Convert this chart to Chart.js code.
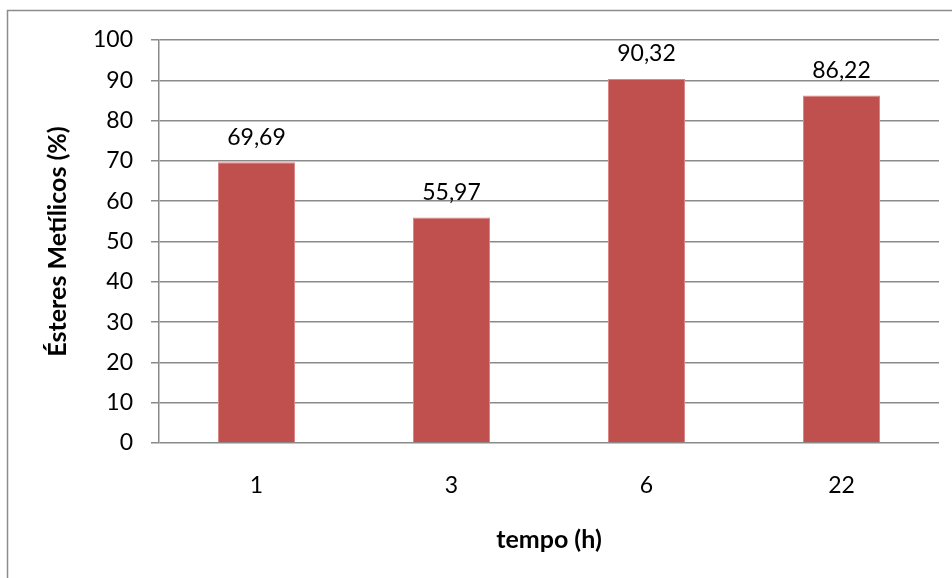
<!DOCTYPE html>
<html>
<head>
<meta charset="utf-8">
<script src="https://cdn.jsdelivr.net/npm/chart.js@4/dist/chart.umd.min.js"></script>
<style>
  html, body { margin: 0; padding: 0; background: #fff; }
  #wrap { width: 952px; height: 578px; position: relative; }
</style>
</head>
<body>
<div id="wrap"><canvas id="c" width="952" height="578"></canvas></div>
<script>
// Reaction time (hours) and methyl ester yield (%)
const categories = ['1', '3', '6', '22'];
const esterYield = [69.69, 55.97, 90.32, 86.22];
const yTicks = [0, 10, 20, 30, 40, 50, 60, 70, 80, 90, 100];

const FONT = 'Lato, "Open Sans", sans-serif';
const GRID = '#8a8a8a';
const TICK_SIZE = 23;
const TITLE_SIZE = 25;

// Outer frame of the chart object
const framePlugin = {
  id: 'frame',
  beforeDraw(chart) {
    const ctx = chart.ctx;
    ctx.save();
    ctx.fillStyle = '#fff';
    ctx.fillRect(0, 0, chart.width, chart.height);
    ctx.strokeStyle = '#8c8c8c';
    ctx.lineWidth = 1.5;
    ctx.strokeRect(7.5, 10.5, chart.width + 20, chart.height + 20);
    ctx.restore();
  }
};

// Value labels above each bar, decimal comma
const valueLabels = {
  id: 'valueLabels',
  afterDatasetsDraw(chart) {
    const ctx = chart.ctx;
    const meta = chart.getDatasetMeta(0);
    ctx.save();
    ctx.font = TICK_SIZE + 'px ' + FONT;
    ctx.fillStyle = '#000';
    ctx.textAlign = 'center';
    ctx.textBaseline = 'middle';
    meta.data.forEach((bar, i) => {
      const v = chart.data.datasets[0].data[i];
      ctx.fillText(v.toFixed(2).replace('.', ','), bar.x, bar.y - 25);
    });
    ctx.restore();
  }
};

new Chart(document.getElementById('c'), {
  type: 'bar',
  data: {
    labels: categories,
    datasets: [{
      data: esterYield,
      backgroundColor: '#C0504D',
      borderColor: '#D98785',
      borderWidth: 1,
      categoryPercentage: 1,
      barPercentage: 0.395
    }]
  },
  options: {
    responsive: false,
    animation: false,
    devicePixelRatio: 1,
    layout: { padding: { top: 40, right: 13, bottom: 0, left: 0 } },
    plugins: { legend: { display: false }, tooltip: { enabled: false } },
    scales: {
      x: {
        grid: { display: false, drawTicks: false },
        border: { display: false },
        ticks: { color: '#000', font: { family: FONT, size: TICK_SIZE }, padding: 29 },
        title: {
          display: true,
          text: 'tempo (h)',
          color: '#000',
          font: { family: FONT, size: TITLE_SIZE, weight: 'bold' },
          padding: { top: 0, bottom: 23 }
        },
        afterFit(scale) { scale.height = 135; }
      },
      y: {
        min: 0,
        max: 100,
        afterBuildTicks(scale) { scale.ticks = yTicks.map(v => ({ value: v })); },
        grid: { color: GRID, lineWidth: 1.5, tickLength: 8, drawTicks: true },
        border: { display: true, color: GRID, width: 1.5 },
        ticks: { color: '#000', font: { family: FONT, size: TICK_SIZE }, padding: 18 },
        title: {
          display: true,
          text: 'Ésteres Metílicos (%)',
          color: '#000',
          font: { family: FONT, size: TITLE_SIZE, weight: 'bold' },
          padding: { top: 43, bottom: 0 }
        },
        afterFit(scale) { scale.width = 159; }
      }
    }
  },
  plugins: [framePlugin, valueLabels]
});
</script>
</body>
</html>
